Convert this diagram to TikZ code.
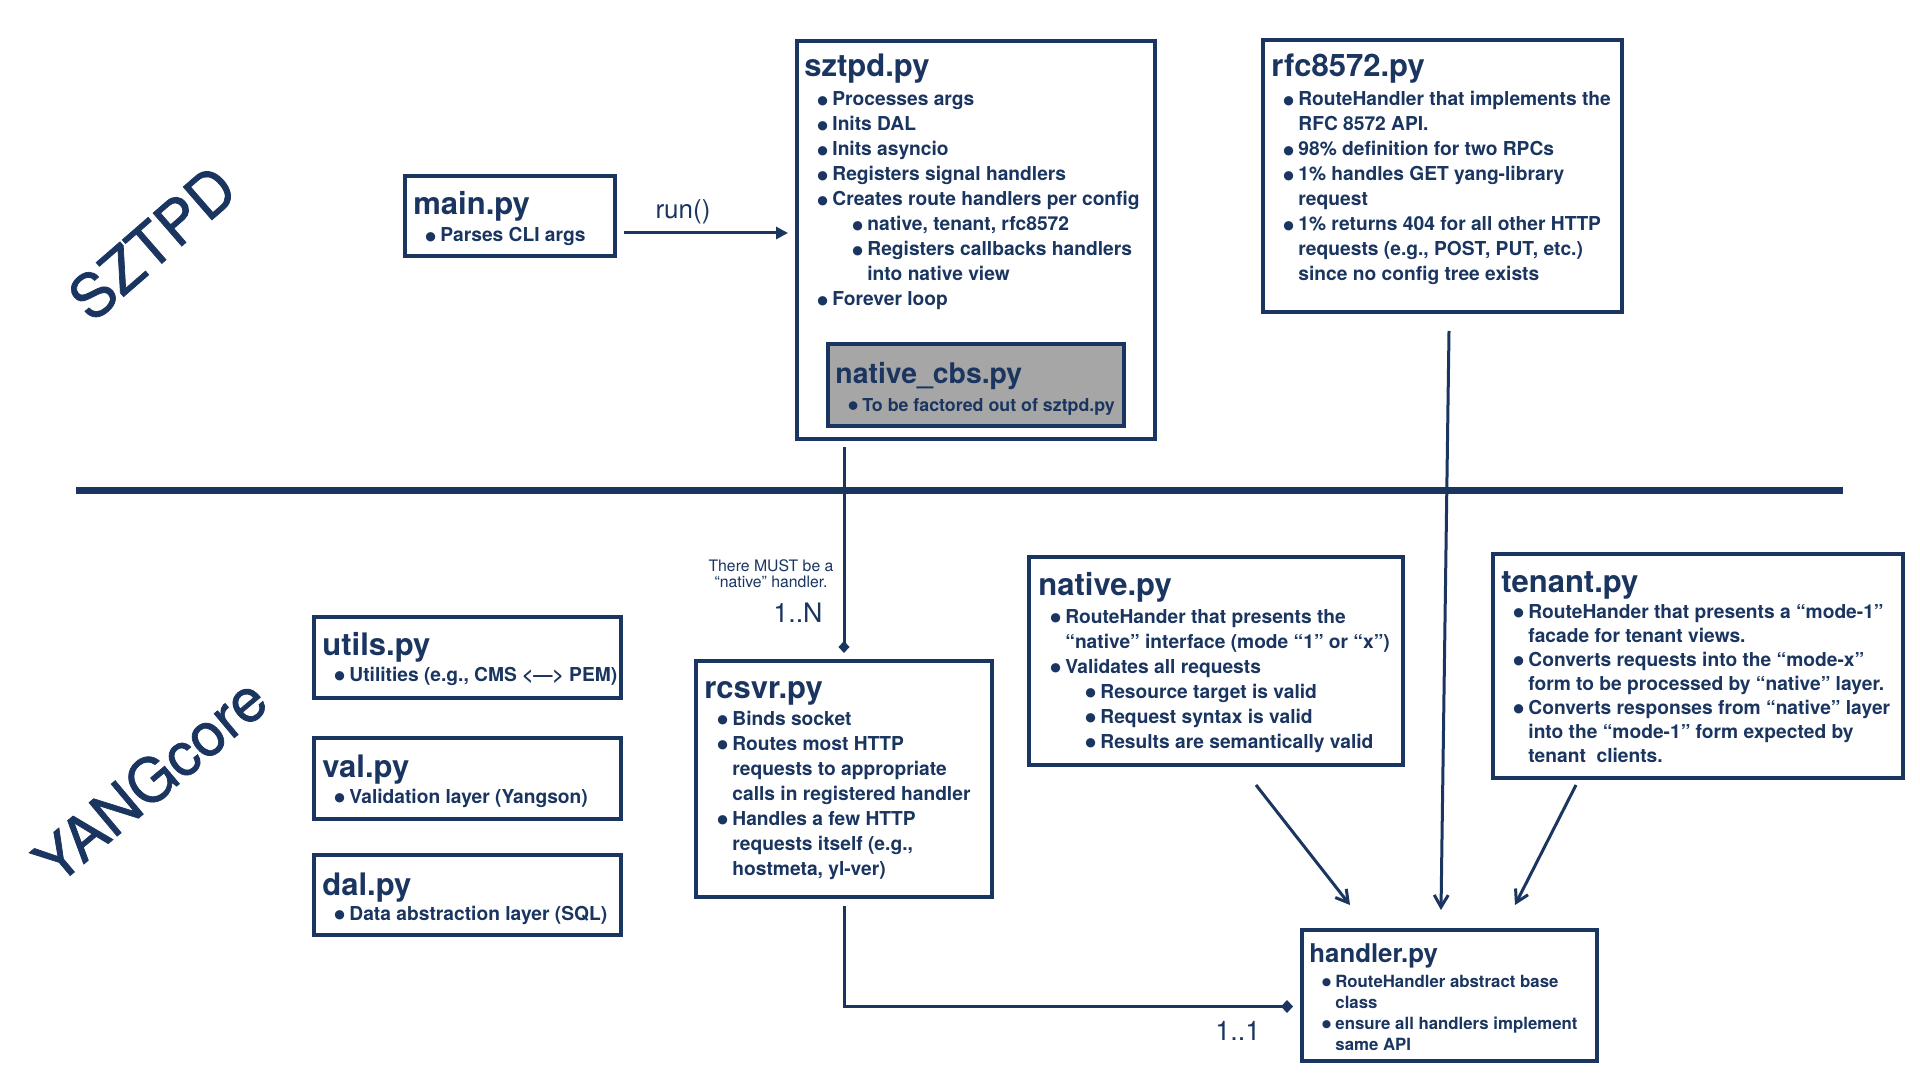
\documentclass[tikz,border=0pt]{standalone}
\usepackage{fontspec}
\setmainfont{TeX Gyre Heros}
\newfontfamily\sidefont[FakeBold=1.2]{TeX Gyre Heros}
\usetikzlibrary{arrows.meta,calc}
\definecolor{navy}{HTML}{1A3560}
\definecolor{cbsgray}{HTML}{A6A6A6}
\newcommand\bdot{\raisebox{-0.33em}{\scalebox{1.95}{\textbullet}}}
\newcommand\bl[1]{\par\leftskip=7pt\noindent\llap{\bdot\hspace{1.6pt}}#1\par}
\newcommand\sbl[1]{\par\leftskip=24.5pt\noindent\llap{\bdot\hspace{1.6pt}}#1\par}
\newcommand\bt[1]{\parbox[t]{260pt}{\raggedright #1}}
\tikzset{
  box/.style={draw=navy, line width=1.6pt, inner sep=0pt, outer sep=0pt, anchor=north west},
  ttl/.style={text=navy, font=\bfseries\fontsize{15.5pt}{18pt}\selectfont, inner sep=0pt, anchor=base west},
  bod/.style={text=navy, font=\bfseries\fontsize{9.6pt}{12.5pt}\selectfont, inner sep=0pt, anchor=base west},
  lbl/.style={text=navy, inner sep=0pt},
  conn/.style={draw=navy, line width=1.5pt},
  barb/.style={conn, -{Straight Barb[length=6pt,width=7pt]}},
}
\begin{document}
\begin{tikzpicture}[x=0.5pt,y=-0.5pt]
\fill[white] (0,0) rectangle (1920,1080);
\useasboundingbox (0,0) rectangle (1920,1080);

% side labels
\node[lbl, font=\sidefont\fontsize{30pt}{36pt}\selectfont, rotate=41] (sztpdlbl) at (152,243) {SZTPD};
\node[lbl, font=\sidefont\fontsize{30pt}{36pt}\selectfont, rotate=40] (yanglbl) at (150,780) {YANGcore};

% divider
\draw[navy, line width=3.5pt] (76,490) -- (1843,490);

% boxes
\node[box, minimum width=105pt, minimum height=40pt] (main) at (405,176) {};
\node[box, minimum width=179pt, minimum height=199pt] (sztpd) at (797,41) {};
\node[box, fill=cbsgray, minimum width=148pt, minimum height=41pt] (cbs) at (828,344) {};
\node[box, minimum width=179.5pt, minimum height=136pt] (rfc) at (1263,40) {};
\node[box, minimum width=148pt, minimum height=118pt] (rcsvr) at (696,661) {};
\node[box, minimum width=187pt, minimum height=104pt] (native) at (1029,557) {};
\node[box, minimum width=205pt, minimum height=112pt] (tenant) at (1493,554) {};
\node[box, minimum width=147.5pt, minimum height=65.5pt] (handler) at (1302,930) {};
\node[box, minimum width=153.5pt, minimum height=40.5pt] (utils) at (314,617) {};
\node[box, minimum width=153.5pt, minimum height=40.5pt] (val) at (314,738) {};
\node[box, minimum width=153.5pt, minimum height=40pt] (dal) at (314,855) {};

% main.py
\node[ttl] (mainT) at (413,215) {main.py};
\node[bod] (mainB) at (426,242) {\bt{\bl{Parses CLI args}}};

% sztpd.py
\node[ttl] (sztpdT) at (804,77) {sztpd.py};
\node[bod] (sztpdB) at (818,106) {\bt{%
\bl{Processes args}
\bl{Inits DAL}
\bl{Inits asyncio}
\bl{Registers signal handlers}
\bl{Creates route handlers per config}
\sbl{native, tenant, rfc8572}
\sbl{Registers callbacks handlers\newline into native view}
\bl{Forever loop}}};

% native_cbs.py
\node[ttl, font=\bfseries\fontsize{14.2pt}{17pt}\selectfont] (cbsT) at (835,383) {native\_cbs.py};
\node[bod, font=\bfseries\fontsize{8.9pt}{11pt}\selectfont] (cbsB) at (848,411) {\bt{\bl{To be factored out of sztpd.py}}};

% rfc8572.py
\node[ttl] (rfcT) at (1271,77) {rfc8572.py};
\node[bod] (rfcB) at (1284,106) {\bt{%
\bl{RouteHandler that implements the\newline RFC 8572 API.}
\bl{98\% definition for two RPCs}
\bl{1\% handles GET yang-library\newline request}
\bl{1\% returns 404 for all other HTTP\newline requests (e.g., POST, PUT, etc.)\newline since no config tree exists}}};

% rcsvr.py
\node[ttl] (rcsvrT) at (704,698) {rcsvr.py};
\node[bod] (rcsvrB) at (718,725) {\bt{%
\bl{Binds socket}
\bl{Routes most HTTP\newline requests to appropriate\newline calls in registered handler}
\bl{Handles a few HTTP\newline requests itself (e.g.,\newline hostmeta, yl-ver)}}};

% native.py
\node[ttl] (nativeT) at (1038,595) {native.py};
\node[bod] (nativeB) at (1051,623) {\bt{%
\bl{RouteHander that presents the\newline “native” interface (mode “1” or “x”)}
\bl{Validates all requests}
\sbl{Resource target is valid}
\sbl{Request syntax is valid}
\sbl{Results are semantically valid}}};

% tenant.py
\node[ttl] (tenantT) at (1501,592) {tenant.py};
\node[bod, font=\bfseries\fontsize{9.6pt}{12pt}\selectfont] (tenantB) at (1514,618) {\bt{%
\bl{RouteHander that presents a “mode-1”\newline facade for tenant views.}
\bl{Converts requests into the “mode-x”\newline form to be processed by “native” layer.}
\bl{Converts responses from “native” layer\newline into the “mode-1” form expected by\newline tenant\ \ clients.}}};

% handler.py
\node[ttl, font=\bfseries\fontsize{12.9pt}{15pt}\selectfont] (handlerT) at (1309,962) {handler.py};
\node[bod, font=\bfseries\fontsize{8.4pt}{10.5pt}\selectfont] (handlerB) at (1321,987) {\bt{%
\bl{RouteHandler abstract base\newline class}
\bl{ensure all handlers implement\newline same API}}};

% utils / val / dal
\node[ttl] (utilsT) at (322,655) {utils.py};
\node[bod] (utilsB) at (335,681) {\bt{\bl{Utilities (e.g., CMS <—> PEM)}}};
\node[ttl] (valT) at (322,777) {val.py};
\node[bod] (valB) at (335,803) {\bt{\bl{Validation layer (Yangson)}}};
\node[ttl] (dalT) at (322,895) {dal.py};
\node[bod] (dalB) at (335,920) {\bt{\bl{Data abstraction layer (SQL)}}};

% labels
\node[lbl, font=\fontsize{13pt}{15pt}\selectfont, anchor=base] (runL) at (683,219) {run()};
\node[lbl, font=\fontsize{13.4pt}{16pt}\selectfont, anchor=base west] (oneN) at (773,622) {1..N};
\node[lbl, font=\fontsize{13.5pt}{16pt}\selectfont, anchor=base west] (oneOne) at (1215,1040) {1..1};
\node[lbl, font=\fontsize{7.9pt}{8pt}\selectfont, anchor=base] (must) at (771,571) {\parbox[t]{90pt}{\centering There MUST be a\\“native” handler.}};

% connectors
\draw[conn, -{Triangle[length=6pt,width=6pt]}] ($(main.east)+(9,17)$) -- ($(sztpd.west |- main.east)+(-9,17)$);
\draw[conn, -{Diamond[length=6pt,width=5.5pt]}] ($(sztpd.south -| rcsvr.north)+(0,8)$) -- ($(rcsvr.north)+(0,-8)$);
\draw[conn, -{Diamond[length=6pt,width=6.5pt]}] ($(rcsvr.south)+(0,9)$) -- ($(rcsvr.south |- handler.west)+(0,11)$) -- ($(handler.west)+(-9,11)$);
\draw[barb] ($(native.south)+(40,20)$) -- ($(handler.north)+(-99.5,-25)$);
\draw[barb] ($(rfc.south)+(6.5,19)$) -- ($(handler.north)+(-8.5,-20)$);
\draw[barb] ($(tenant.south)+(-122,7)$) -- ($(handler.north)+(65.5,-25)$);
\end{tikzpicture}
\end{document}
